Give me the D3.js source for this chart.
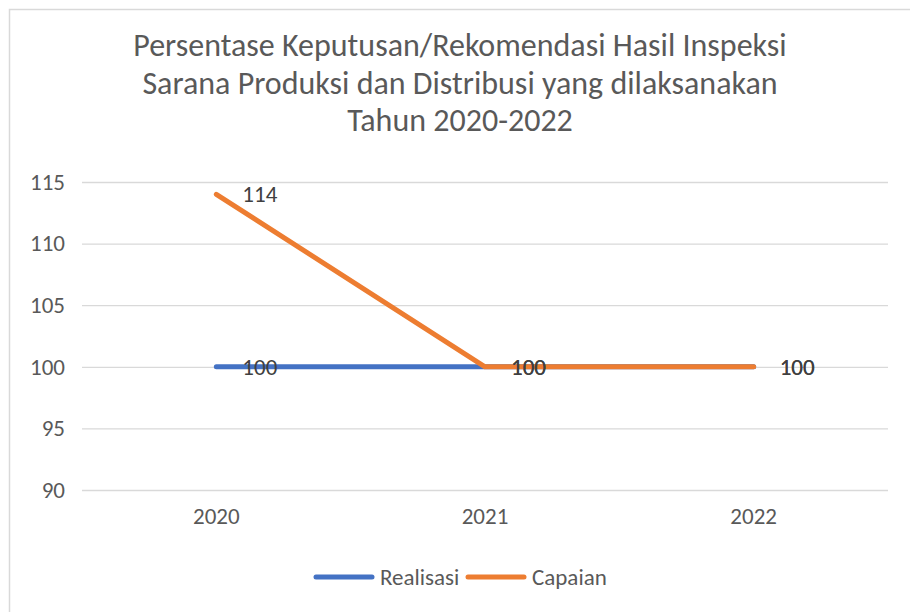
<!DOCTYPE html>
<html>
<head>
<meta charset="utf-8">
<script src="https://cdn.jsdelivr.net/npm/d3@7"></script>
<style>
  body { margin: 0; background: #fff; }
  text { font-family: Carlito, "Open Sans", sans-serif; fill: #595959; }
</style>
</head>
<body>
<div id="chart"></div>
<script>
var years = ["2020", "2021", "2022"]
var realisasi = [100, 100, 100]
var capaian = [114, 100, 100]
var yTicks = [90, 95, 100, 105, 110, 115]
var titleLines = [
	"Persentase Keputusan/Rekomendasi Hasil Inspeksi",
	"Sarana Produksi dan Distribusi yang dilaksanakan",
	"Tahun 2020-2022"
]
var seriesNames = ["Realisasi", "Capaian"]
var colors = ["#4472C4", "#ED7D31"]

var width = 910
var height = 612
var plotLeft = 82, plotRight = 888, plotTop = 182, plotBottom = 490

var svg = d3.select("#chart").append("svg")
	.attr("width", width)
	.attr("height", height)

// outer chart border (runs off the picture)
svg.append("rect")
	.attr("x", 9.5).attr("y", 9.5)
	.attr("width", width).attr("height", height)
	.attr("fill", "white")
	.attr("stroke", "#d9d9d9")
	.attr("stroke-width", 1.5)

// title
svg.append("g").selectAll("text")
	.data(titleLines)
	.join("text")
	.attr("x", 460)
	.attr("y", function (d, i) { return 56 + i * 37.5 })
	.attr("text-anchor", "middle")
	.style("font-size", "32px")
	.text(function (d) { return d })

var x = d3.scaleBand().domain(years).range([plotLeft, plotRight])
var y = d3.scaleLinear().domain([90, 115]).range([plotBottom, plotTop])

// gridlines
svg.append("g")
	.attr("transform", "translate(" + plotLeft + ",0)")
	.call(d3.axisLeft(y).tickValues(yTicks).tickSize(-(plotRight - plotLeft)).tickFormat(""))
	.call(function (g) { g.select(".domain").remove() })
	.selectAll("line").attr("stroke", "#d9d9d9").attr("stroke-width", 1.3)

// y labels
svg.append("g")
	.attr("transform", "translate(" + plotLeft + ",0)")
	.call(d3.axisLeft(y).tickValues(yTicks).tickSize(0).tickPadding(17))
	.call(function (g) { g.select(".domain").remove() })
	.selectAll("text").style("font-size", "23px")

// x labels
svg.append("g")
	.attr("transform", "translate(0," + plotBottom + ")")
	.call(d3.axisBottom(x).tickSize(0).tickPadding(18))
	.call(function (g) { g.select(".domain").remove() })
	.selectAll("text").style("font-size", "23px")

var line = d3.line()
	.x(function (d, i) { return x(years[i]) + x.bandwidth() / 2 })
	.y(function (d) { return y(d) })

var series = [realisasi, capaian]
series.forEach(function (s, k) {
	svg.append("path")
		.datum(s)
		.attr("fill", "none")
		.attr("stroke", colors[k])
		.attr("stroke-width", 5)
		.attr("stroke-linecap", "round")
		.attr("stroke-linejoin", "round")
		.attr("d", line)
})

// data labels (right of points)
series.forEach(function (s, k) {
	svg.append("g").selectAll("text")
		.data(s)
		.join("text")
		.attr("x", function (d, i) { return x(years[i]) + x.bandwidth() / 2 + 26 })
		.attr("y", function (d) { return y(d) + 8 })
		.style("font-size", "23px")
		.style("fill", "#404040")
		.text(function (d) { return d })
})

// legend
var legend = svg.append("g").attr("transform", "translate(316,577)")
var lx = [0, 152]
seriesNames.forEach(function (n, k) {
	legend.append("line")
		.attr("x1", lx[k]).attr("x2", lx[k] + 56)
		.attr("y1", 0).attr("y2", 0)
		.attr("stroke", colors[k])
		.attr("stroke-width", 5)
		.attr("stroke-linecap", "round")
	legend.append("text")
		.attr("x", lx[k] + 64)
		.attr("y", 8)
		.style("font-size", "23px")
		.text(n)
})
</script>
</body>
</html>
